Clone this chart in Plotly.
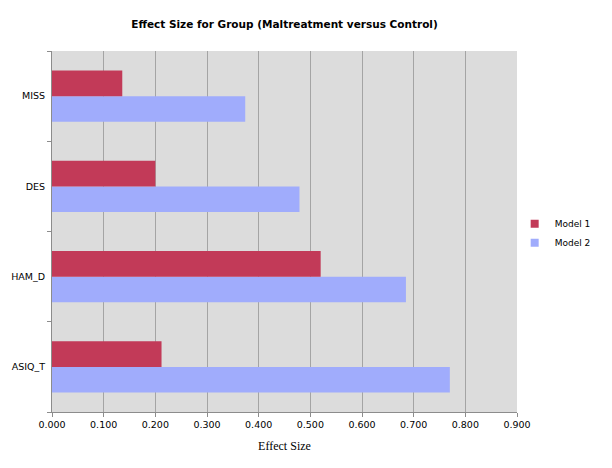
import plotly.graph_objects as go

categories = ["ASIQ_T", "HAM_D", "DES", "MISS"]
model1 = [0.212, 0.520, 0.200, 0.136]
model2 = [0.770, 0.685, 0.479, 0.374]
tick_vals = [0.0, 0.1, 0.2, 0.3, 0.4, 0.5, 0.6, 0.7, 0.8, 0.9]
tick_text = ["0.000", "0.100", "0.200", "0.300", "0.400", "0.500", "0.600", "0.700", "0.800", "0.900"]

RED = "#C23A58"
BLUE = "#A0ACFC"

fig = go.Figure()
fig.add_trace(go.Bar(y=categories, x=model2, orientation="h", name="Model 2",
                     marker=dict(color=BLUE, line=dict(width=0)), showlegend=False))
fig.add_trace(go.Bar(y=categories, x=model1, orientation="h", name="Model 1",
                     marker=dict(color=RED, line=dict(width=0)), showlegend=False))
# legend entries with small square swatches
fig.add_trace(go.Scatter(x=[None], y=[None], mode="markers", name="Model 1",
                         marker=dict(symbol="square", size=8, color=RED)))
fig.add_trace(go.Scatter(x=[None], y=[None], mode="markers", name="Model 2",
                         marker=dict(symbol="square", size=8, color=BLUE)))

fig.update_layout(
    width=612, height=468,
    margin=dict(l=44, r=103, t=43, b=64, autoexpand=False),
    paper_bgcolor="white", plot_bgcolor="#DCDCDC",
    barmode="group", bargap=0.43, bargroupgap=0,
    title=dict(text="<b>Effect Size for Group (Maltreatment versus Control)</b>",
               x=0.5, xanchor="center", xref="paper",
               yref="container", y=1 - 16 / 468, yanchor="middle",
               font=dict(family="DejaVu Sans", size=10.5, color="black")),
    legend=dict(x=0.995, xanchor="left", y=0.495, yanchor="middle",
                font=dict(family="DejaVu Sans", size=9, color="black"),
                itemwidth=30, tracegroupgap=0, bgcolor="rgba(0,0,0,0)"),
    font=dict(family="DejaVu Sans", size=10, color="black"),
    showlegend=True,
)
fig.update_xaxes(range=[0, 0.9], tickvals=tick_vals, ticktext=tick_text,
                 showgrid=True, gridcolor="#A4A4A4", gridwidth=1,
                 showline=True, linecolor="#8C8C8C", linewidth=1,
                 ticks="outside", ticklen=4, tickcolor="#8C8C8C",
                 zeroline=False, automargin=False,
                 title=dict(text="Effect Size", font=dict(family="Liberation Serif", size=12, color="black"),
                            standoff=12),
                 tickfont=dict(family="DejaVu Sans", size=9.5))
fig.update_yaxes(showgrid=False, showline=True, linecolor="#8C8C8C", linewidth=1,
                 ticks="outside", ticklen=4, tickcolor="#8C8C8C",
                 tickson="boundaries", ticklabelstandoff=4, automargin=False,
                 tickfont=dict(family="DejaVu Sans", size=9.5))

fig.write_html("out.html")
